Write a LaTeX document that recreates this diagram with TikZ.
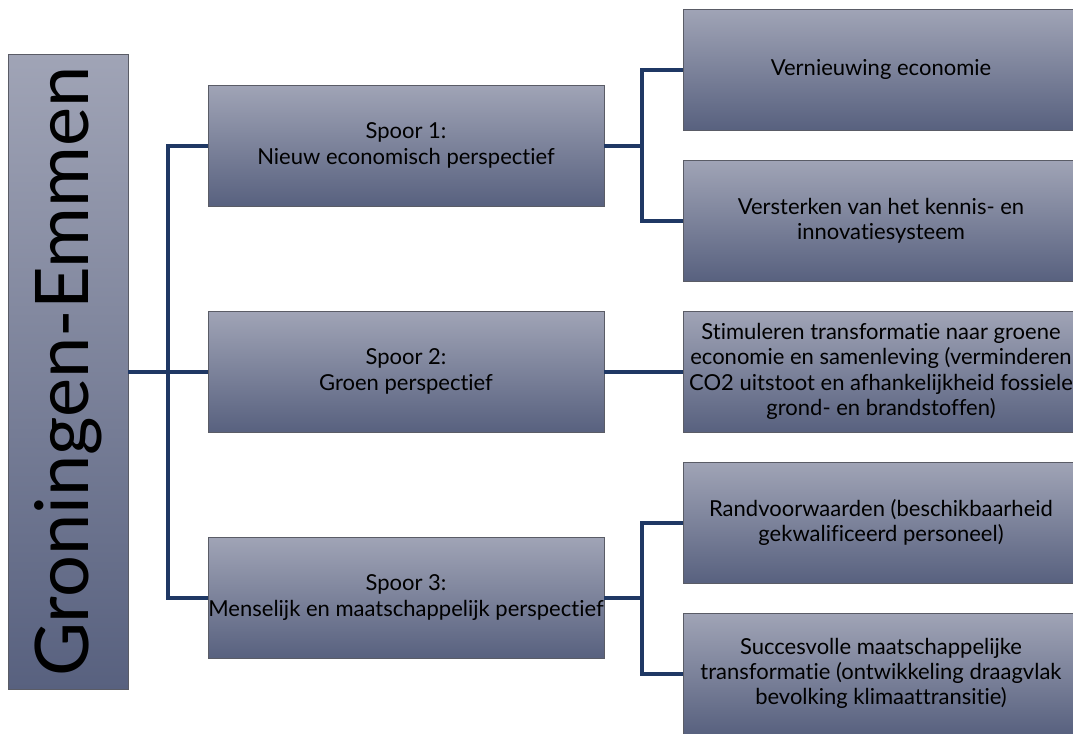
\documentclass[tikz,border=0pt]{standalone}
\usepackage{fontspec}
\setmainfont{Lato}[Ligatures=NoCommon]
\usetikzlibrary{positioning}
\definecolor{boxtop}{HTML}{A0A4B6}
\definecolor{boxmid}{HTML}{7F859F}
\definecolor{boxbot}{HTML}{58617F}
\definecolor{boxrand}{HTML}{5A5C66}
\definecolor{takkleur}{HTML}{1F3864}
\begin{document}
\begin{tikzpicture}[x=0.75pt,y=-0.75pt,
    box/.style={draw=boxrand, line width=0.6pt, top color=boxtop, middle color=boxmid, bottom color=boxbot,
        minimum width=297pt, minimum height=90.75pt, inner sep=0pt, align=center,
        font=\fontsize{16.5}{19}\selectfont},
    tak/.style={draw=takkleur, line width=3pt}]
    \useasboundingbox (0,0) rectangle (1073,733);
    % hoofdblok
    \node[box, minimum width=90pt, minimum height=476.25pt] (groningen) at (68,371.5)
        {\rotatebox{90}{\fontsize{55.5}{60}\selectfont Groningen-Emmen}};
    % sporen
    \node[box] (spoor1) at (406,145.5) {Spoor 1:\\Nieuw economisch perspectief};
    \node[box] (spoor2) at (406,371.5) {Spoor 2:\\Groen perspectief};
    \node[box] (spoor3) at (406,597.5) {Spoor 3:\\Menselijk en maatschappelijk perspectief};
    % doelen
    \node[box] (vernieuwing) at (881,69.5) {Vernieuwing economie};
    \node[box] (kennis) at (881,220.5) {Versterken van het kennis- en\\innovatiesysteem};
    \node[box] (groen) at (881,371.5) {Stimuleren transformatie naar groene\\economie en samenleving (verminderen\\CO2 uitstoot en afhankelijkheid fossiele\\grond- en brandstoffen)};
    \node[box] (rand) at (881,522.5) {Randvoorwaarden (beschikbaarheid\\gekwalificeerd personeel)};
    \node[box] (draagvlak) at (881,673.5) {Succesvolle maatschappelijke\\transformatie (ontwikkeling draagvlak\\bevolking klimaattransitie)};
    % verbindingen
    \draw[tak] (groningen.east) -- (spoor2.west);
    \draw[tak] (spoor1.west) -- ++(-40,0) |- (spoor3.west);
    \draw[tak] (spoor1.east) -- ++(38,0);
    \draw[tak] (vernieuwing.west) -- ++(-41,0) |- (kennis.west);
    \draw[tak] (spoor2.east) -- (groen.west);
    \draw[tak] (spoor3.east) -- ++(38,0);
    \draw[tak] (rand.west) -- ++(-41,0) |- (draagvlak.west);
\end{tikzpicture}
\end{document}
